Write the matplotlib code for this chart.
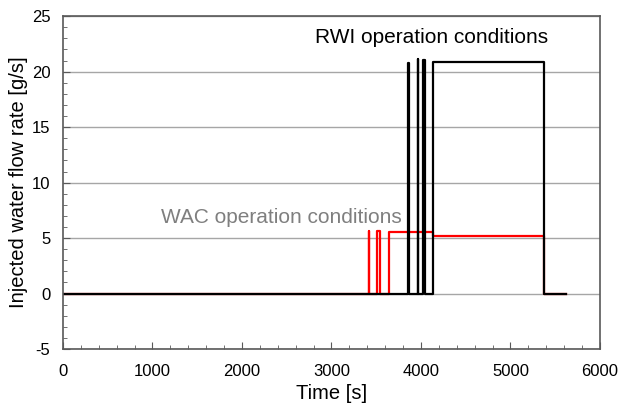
import matplotlib.pyplot as plt
from matplotlib.ticker import MultipleLocator

plt.rcParams['font.family'] = ['Liberation Sans', 'DejaVu Sans']
plt.rcParams['axes.unicode_minus'] = False

# RWI (black) injected water flow rate [g/s] vs time [s]
rwi_t = [0, 3860, 3860, 3866, 3866, 3962, 3962, 3968, 3968, 4025, 4025, 4050, 4050,
         4134, 4134, 5375, 5375, 5620]
rwi_v = [0, 0, 20.8, 20.8, 0, 0, 21.1, 21.1, 0, 0, 21.05, 21.05, 0,
         0, 20.9, 20.9, 0, 0]

# WAC (red)
wac_t = [0, 3415, 3415, 3421, 3421, 3510, 3510, 3542, 3542, 3647, 3647, 4134, 4134,
         5370, 5370, 5620]
wac_v = [0, 0, 5.65, 5.65, 0, 0, 5.6, 5.6, 0, 0, 5.52, 5.52, 5.2,
         5.2, 0, 0]

fig = plt.figure(figsize=(6.2, 4.04), dpi=100)
ax = fig.add_axes([0.1016, 0.136, 0.866, 0.824])

ax.plot(wac_t, wac_v, color='#ff0000', lw=1.6)
ax.plot(rwi_t, rwi_v, color='black', lw=1.6)

ax.set_xlim(0, 6000)
ax.set_ylim(-5, 25)
ax.xaxis.set_major_locator(MultipleLocator(1000))
ax.xaxis.set_minor_locator(MultipleLocator(200))
ax.yaxis.set_major_locator(MultipleLocator(5))
ax.yaxis.set_minor_locator(MultipleLocator(1))
ax.tick_params(which='both', direction='in', top=False, right=False,
               labelsize=12, color='#595959')
ax.tick_params(axis='x', which='major', length=5, pad=11)
ax.tick_params(axis='y', which='major', length=5, pad=9)
ax.tick_params(which='minor', length=3)
ax.grid(axis='y', which='major', color='#a6a6a6', lw=1)
ax.set_axisbelow(True)
for s in ax.spines.values():
    s.set_color('#595959')
    s.set_linewidth(1.2)

ax.set_xlabel('Time [s]', fontsize=14.5, labelpad=3)
ax.set_ylabel('Injected water flow rate [g/s]', fontsize=14.5, labelpad=3)

ax.text(5420, 22.57, 'RWI operation conditions', fontsize=15, color='black',
        ha='right', va='baseline')
ax.text(3780, 6.4, 'WAC operation conditions', fontsize=15, color='#7f7f7f',
        ha='right', va='baseline')

fig.savefig('out.png')
